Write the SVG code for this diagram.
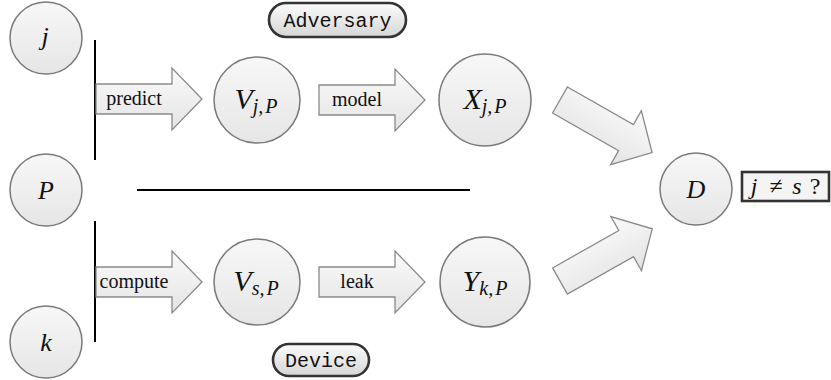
<svg xmlns="http://www.w3.org/2000/svg" xmlns:xlink="http://www.w3.org/1999/xlink" width="831" height="380" viewBox="0 0 831 380">
  <style>
    .node { fill: url(#nodeFill); stroke: #7a7a7a; stroke-width: 1.5; }
    .math { font-style: italic; fill: #111; }
    .up { font-style: normal; }
    .lbl { font-size: 20px; fill: #111; }
    .tag { fill: url(#tagFill); stroke: #333; stroke-width: 2.6; }
    .tt { font-size: 20px; fill: #111; }
    .bar { stroke: #000; stroke-width: 2; }
    .blk { fill: url(#arrowFill); stroke: #8a8a8a; stroke-width: 1.3; stroke-linejoin: miter; }
  </style>
  <defs>
    <linearGradient id="nodeFill" x1="0" y1="0" x2="0" y2="1">
      <stop offset="0" stop-color="#f7f7f7"/>
      <stop offset="1" stop-color="#e6e6e6"/>
    </linearGradient>
    <linearGradient id="arrowFill" x1="0" y1="0" x2="0" y2="1">
      <stop offset="0" stop-color="#fafafa"/>
      <stop offset="1" stop-color="#e4e4e4"/>
    </linearGradient>
    <linearGradient id="tagFill" x1="0" y1="0" x2="0" y2="1">
      <stop offset="0" stop-color="#fbfbfb"/>
      <stop offset="1" stop-color="#d6d6d6"/>
    </linearGradient>
    <!-- block arrow, tail at origin pointing along +x -->
    <path id="blockArrow" d="M0,-15 L76,-15 L76,-31 L106,0 L76,31 L76,15 L0,15 Z"/>
  </defs>

  <!-- connectors -->
  <g id="connectors">
    <line class="bar" x1="95" y1="40" x2="95" y2="160"/>
    <line class="bar" x1="95" y1="221" x2="95" y2="342"/>
    <line class="bar" x1="137" y1="190" x2="470" y2="190"/>
    <use class="blk" xlink:href="#blockArrow" transform="translate(96,99)"/>
    <use class="blk" xlink:href="#blockArrow" transform="translate(319,100)"/>
    <use class="blk" xlink:href="#blockArrow" transform="translate(96,282)"/>
    <use class="blk" xlink:href="#blockArrow" transform="translate(319,282)"/>
    <use class="blk" xlink:href="#blockArrow" transform="translate(560,100) rotate(29.7)"/>
    <use class="blk" xlink:href="#blockArrow" transform="translate(560,281) rotate(-29.5)"/>
    <text class="lbl" font-family="'Liberation Serif', 'DejaVu Serif', serif" x="134" y="105" text-anchor="middle">predict</text>
    <text class="lbl" font-family="'Liberation Serif', 'DejaVu Serif', serif" x="357" y="106" text-anchor="middle">model</text>
    <text class="lbl" font-family="'Liberation Serif', 'DejaVu Serif', serif" x="134" y="288" text-anchor="middle">compute</text>
    <text class="lbl" font-family="'Liberation Serif', 'DejaVu Serif', serif" x="357" y="288" text-anchor="middle">leak</text>
  </g>

  <g id="node-j">
    <circle class="node" cx="46" cy="38" r="36"/>
    <text class="math" font-family="'Liberation Serif', 'DejaVu Serif', serif" x="45" y="45" font-size="26" text-anchor="middle">j</text>
  </g>
  <g id="node-P">
    <circle class="node" cx="46" cy="190" r="36"/>
    <text class="math" font-family="'Liberation Serif', 'DejaVu Serif', serif" x="46" y="199" font-size="26" text-anchor="middle">P</text>
  </g>
  <g id="node-k">
    <circle class="node" cx="46" cy="342" r="36"/>
    <text class="math" font-family="'Liberation Serif', 'DejaVu Serif', serif" x="46" y="351" font-size="26" text-anchor="middle">k</text>
  </g>

  <g id="node-Vj">
    <circle class="node" cx="257" cy="100" r="43"/>
    <text class="math" font-family="'Liberation Serif', 'DejaVu Serif', serif" x="256" y="109" font-size="30" text-anchor="middle">V<tspan font-size="20" dy="4">j,<tspan dx="2">P</tspan></tspan></text>
  </g>
  <g id="node-Xj">
    <circle class="node" cx="485" cy="100" r="46"/>
    <text class="math" font-family="'Liberation Serif', 'DejaVu Serif', serif" x="485" y="109" font-size="30" text-anchor="middle">X<tspan font-size="20" dy="4">j,<tspan dx="2">P</tspan></tspan></text>
  </g>
  <g id="node-Vs">
    <circle class="node" cx="257" cy="282" r="43"/>
    <text class="math" font-family="'Liberation Serif', 'DejaVu Serif', serif" x="256" y="291" font-size="30" text-anchor="middle">V<tspan font-size="20" dy="4">s,<tspan dx="2">P</tspan></tspan></text>
  </g>
  <g id="node-Yk">
    <circle class="node" cx="485" cy="282" r="45"/>
    <text class="math" font-family="'Liberation Serif', 'DejaVu Serif', serif" x="485" y="291" font-size="30" text-anchor="middle">Y<tspan font-size="20" dy="4">k,<tspan dx="2">P</tspan></tspan></text>
  </g>

  <g id="node-D">
    <circle class="node" cx="696" cy="189" r="36"/>
    <text class="math" font-family="'Liberation Serif', 'DejaVu Serif', serif" x="696" y="198" font-size="26" text-anchor="middle">D</text>
  </g>
  <g id="node-test" font-family="'Liberation Serif', 'DejaVu Serif', serif" font-size="24">
    <rect x="742" y="172" width="87" height="29" fill="#f4f4f4" stroke="#333" stroke-width="2.6"/>
    <text class="math" x="754" y="194" text-anchor="middle">j</text>
    <text class="up" x="776" y="194" text-anchor="middle" fill="#111">≠</text>
    <text class="math" x="797" y="194" text-anchor="middle">s</text>
    <text class="up" x="815" y="194" text-anchor="middle" fill="#111">?</text>
  </g>

  <g id="tag-adversary">
    <rect class="tag" x="269" y="3" width="137" height="34" rx="17"/>
    <text class="tt" font-family="'Liberation Mono', 'DejaVu Sans Mono', monospace" x="337.5" y="27" text-anchor="middle">Adversary</text>
  </g>
  <g id="tag-device">
    <rect class="tag" x="273" y="344" width="96" height="32" rx="16"/>
    <text class="tt" font-family="'Liberation Mono', 'DejaVu Sans Mono', monospace" x="321" y="367" text-anchor="middle">Device</text>
  </g>
</svg>
